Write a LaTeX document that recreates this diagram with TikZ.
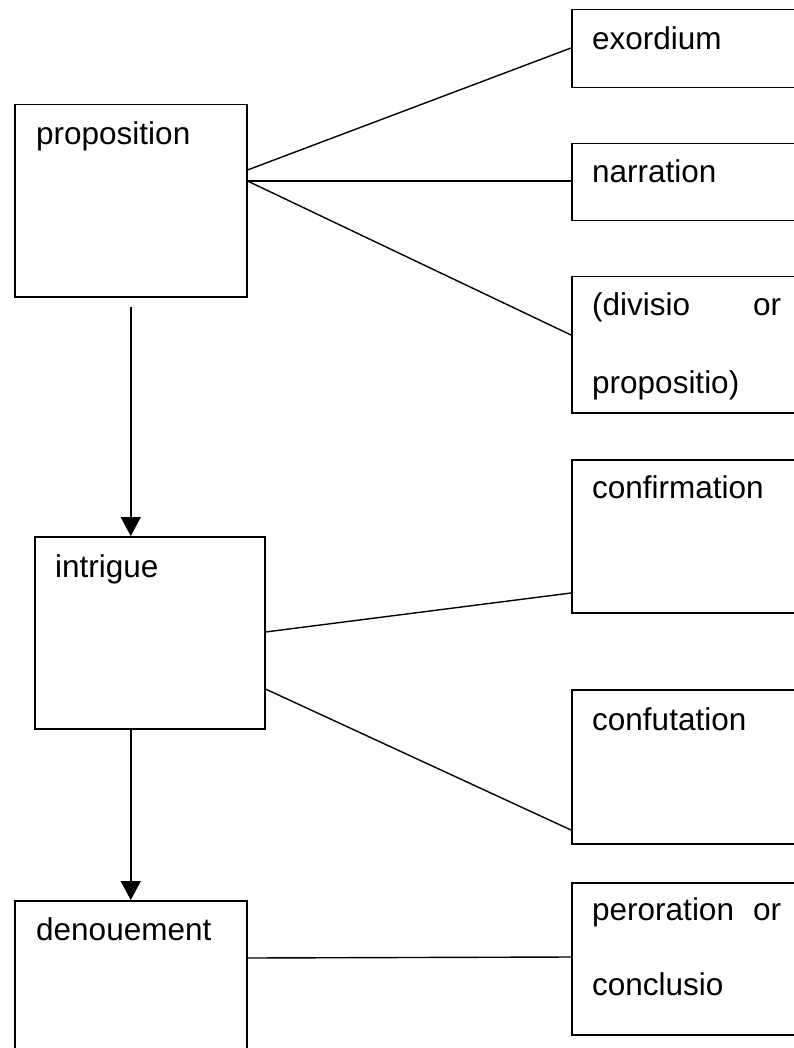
\documentclass[tikz,border=0pt]{standalone}
\usepackage{fontspec}
\setmainfont{Liberation Sans}
\usetikzlibrary{calc,arrows.meta}
\begin{document}
\begin{tikzpicture}[x=1pt,y=-1pt,
  box/.style={draw, line width=1.5pt, rectangle, anchor=north west, inner sep=0pt},
  lbl/.style={anchor=base west, inner sep=0pt, font=\fontsize{31.5}{38}\selectfont},
  conn/.style={line width=1.4pt},
  flow/.style={line width=1.5pt, -{Triangle[length=19pt,width=20pt]}}]
\useasboundingbox (0,0) rectangle (794,1048);
\clip (0,0) rectangle (794,1048);
% right-hand boxes
\node[box, minimum width=240pt, minimum height=78pt]  (exo)   at (571,9)   {};
\node[box, minimum width=240pt, minimum height=77pt]  (nar)   at (571,143) {};
\node[box, minimum width=240pt, minimum height=136pt] (div)   at (571,276) {};
\node[box, minimum width=240pt, minimum height=153pt] (conf)  at (571,459) {};
\node[box, minimum width=240pt, minimum height=154pt] (confu) at (571,689) {};
\node[box, minimum width=240pt, minimum height=152pt] (per)   at (571,882) {};
% left-hand boxes
\node[box, minimum width=232pt, minimum height=192pt] (prop) at (14,104) {};
\node[box, minimum width=230pt, minimum height=192pt] (intr) at (34,536) {};
\node[box, minimum width=232pt, minimum height=170pt] (den)  at (14,900) {};
% texts
\node[lbl] (exot)  at ($(exo.north west)+(21,41)$)   {exordium};
\node[lbl] (nart)  at ($(nar.north west)+(21,40)$)   {narration};
\node[lbl] (divt)  at ($(div.north west)+(21,39)$)   {\makebox[189pt]{(divisio\hfill or}};
\node[lbl] (divt2) at ($(div.north west)+(21,117)$)  {propositio)};
\node[lbl] (conft) at ($(conf.north west)+(21,39)$)  {confirmation};
\node[lbl] (confut) at ($(confu.north west)+(21,41)$) {confutation};
\node[lbl] (pert)  at ($(per.north west)+(21,38)$)   {\makebox[189pt]{peroration\hfill or}};
\node[lbl] (pert2) at ($(per.north west)+(21,113)$)  {conclusio};
\node[lbl] (propt) at ($(prop.north west)+(22,41)$)  {proposition};
\node[lbl] (intrt) at ($(intr.north west)+(21,41)$)  {intrigue};
\node[lbl] (dent)  at ($(den.north west)+(22,40)$)   {denouement};
% connectors
\draw[conn] ($(prop.north east)+(0,66)$) -- ($(exo.north west)+(0,39)$);
\draw[conn] ($(prop.north east)+(0,77)$) -- ($(nar.north west)+(0,38)$);
\draw[conn] ($(prop.north east)+(0,77)$) -- ($(div.north west)+(0,59)$);
\draw[conn] ($(intr.north east)+(0,96)$) -- ($(conf.north west)+(0,134)$);
\draw[conn] ($(intr.north east)+(0,153)$) -- ($(confu.north west)+(0,141)$);
\draw[conn] ($(den.north east)+(0,58)$) -- ($(per.north west)+(0,75)$);
% flow arrows
\draw[flow] ($(prop.south)+(0,9)$) -- (intr.north -| prop.south);
\draw[flow] (intr.south -| prop.south) -- (den.north);
\end{tikzpicture}
\end{document}
